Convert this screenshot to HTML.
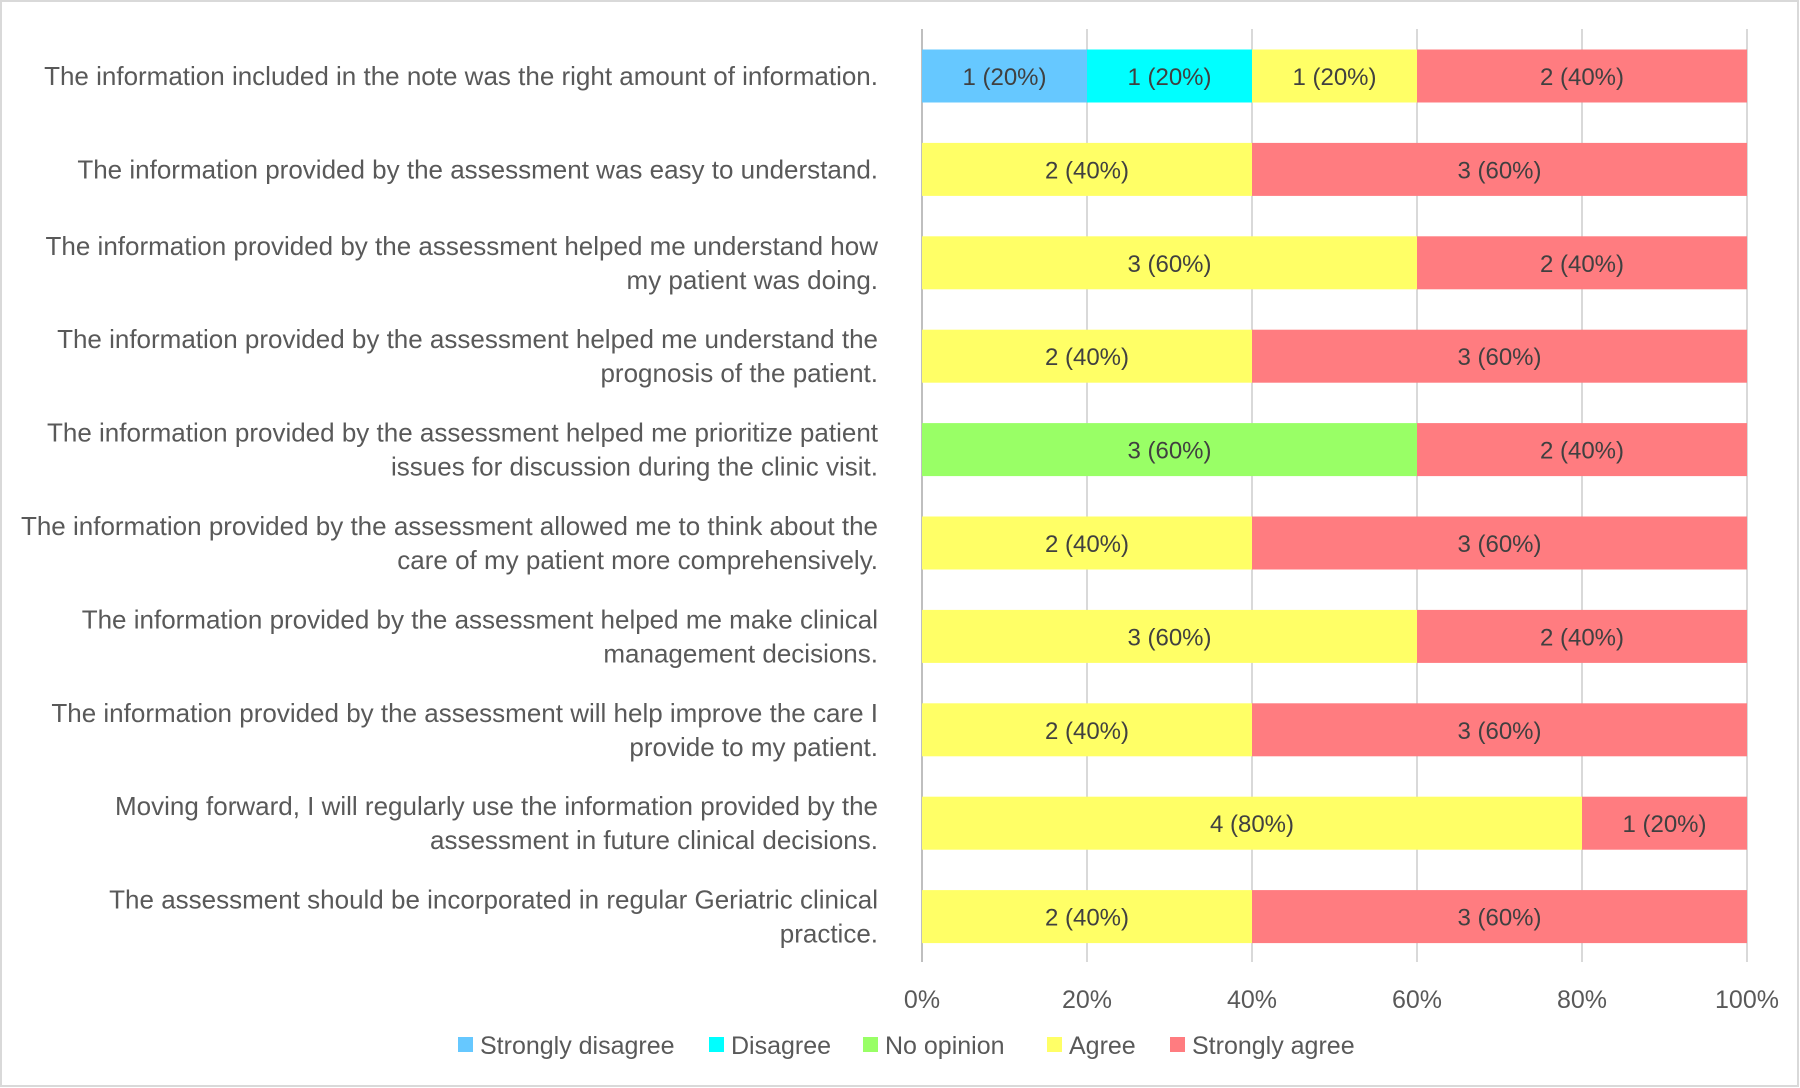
<!DOCTYPE html>
<html><head><meta charset="utf-8"><style>
body{margin:0;background:#fff}
svg{display:block;font-family:"Liberation Sans",sans-serif}
</style></head><body>
<svg id="chart" width="1800" height="1088">
<rect x="1" y="1" width="1797" height="1085" fill="#fff" stroke="#d9d9d9" stroke-width="2"/>
<g id="grid"></g><g id="bars"></g><g id="labels"></g><g id="ticks"></g><g id="legend"></g>
</svg>
<script>
const questions=[
["The information included in the note was the right amount of information."],
["The information provided by the assessment was easy to understand."],
["The information provided by the assessment helped me understand how","my patient was doing."],
["The information provided by the assessment helped me understand the","prognosis of the patient."],
["The information provided by the assessment helped me prioritize patient","issues for discussion during the clinic visit."],
["The information provided by the assessment allowed me to think about the","care of my patient more comprehensively."],
["The information provided by the assessment helped me make clinical","management decisions."],
["The information provided by the assessment will help improve the care I","provide to my patient."],
["Moving forward, I will regularly use the information provided by the","assessment in future clinical decisions."],
["The assessment should be incorporated in regular Geriatric clinical","practice."]];
const seriesNames=["Strongly disagree","Disagree","No opinion","Agree","Strongly agree"];
const seriesColors=["#66c8ff","#00ffff","#99ff66","#ffff66","#ff7c80"];
const stronglyDisagree=[1,0,0,0,0,0,0,0,0,0];
const disagree=[1,0,0,0,0,0,0,0,0,0];
const noOpinion=[0,0,0,0,3,0,0,0,0,0];
const agree=[1,2,3,2,0,2,3,2,4,2];
const stronglyAgree=[2,3,2,3,2,3,2,3,1,3];
const tickLabels=["0%","20%","40%","60%","80%","100%"];
const series=[stronglyDisagree,disagree,noOpinion,agree,stronglyAgree];
const NS="http://www.w3.org/2000/svg";
const X0=922,W=825,Y0=76,DY=93.4,BH=53,GT=29,GB=962;
const xs=p=>X0+p*W;
const ys=i=>Y0+i*DY;
function el(t,a,p){const e=document.createElementNS(NS,t);for(const k in a)e.setAttribute(k,a[k]);p.appendChild(e);return e;}
const grid=document.getElementById('grid'),bars=document.getElementById('bars'),labels=document.getElementById('labels'),ticks=document.getElementById('ticks'),legend=document.getElementById('legend');
tickLabels.forEach((t,k)=>{const x=xs(k/(tickLabels.length-1));
const l=el('line',{x1:x,x2:x,y1:GT,y2:GB,stroke:k==0?'#bfbfbf':'#d9d9d9','stroke-width':2},grid);


const tx=el('text',{x:x,y:1008,'text-anchor':'middle','font-size':25,fill:'#595959'},ticks);tx.textContent=t;

});
questions.forEach((q,i)=>{
const total=series.reduce((s,a)=>s+a[i],0);let cum=0;const yc=ys(i);
series.forEach((a,j)=>{const v=a[i];if(!v)return;
const x1=xs(cum/total),x2=xs((cum+v)/total);cum+=v;
const r=el('rect',{x:x1,y:yc-BH/2,width:x2-x1,height:BH,fill:seriesColors[j]},bars);


const t=el('text',{x:(x1+x2)/2,y:yc+9,'text-anchor':'middle','font-size':24,fill:'#404040'},bars);
t.textContent=v+' ('+Math.round(v/total*100)+'%)';

});
const n=q.length;
q.forEach((line,k)=>{const t=el('text',{x:878,y:yc+9+(k-(n-1)/2)*34,'text-anchor':'end','font-size':26,fill:'#595959'},labels);t.textContent=line;

});
});
const lx=[458,709,863,1047,1170];
seriesNames.forEach((s,j)=>{
const r=el('rect',{x:lx[j],y:1037,width:15,height:15,fill:seriesColors[j]},legend);


const t=el('text',{x:lx[j]+22,y:1054,'font-size':25,fill:'#595959'},legend);t.textContent=s;

});
</script>
</body></html>
